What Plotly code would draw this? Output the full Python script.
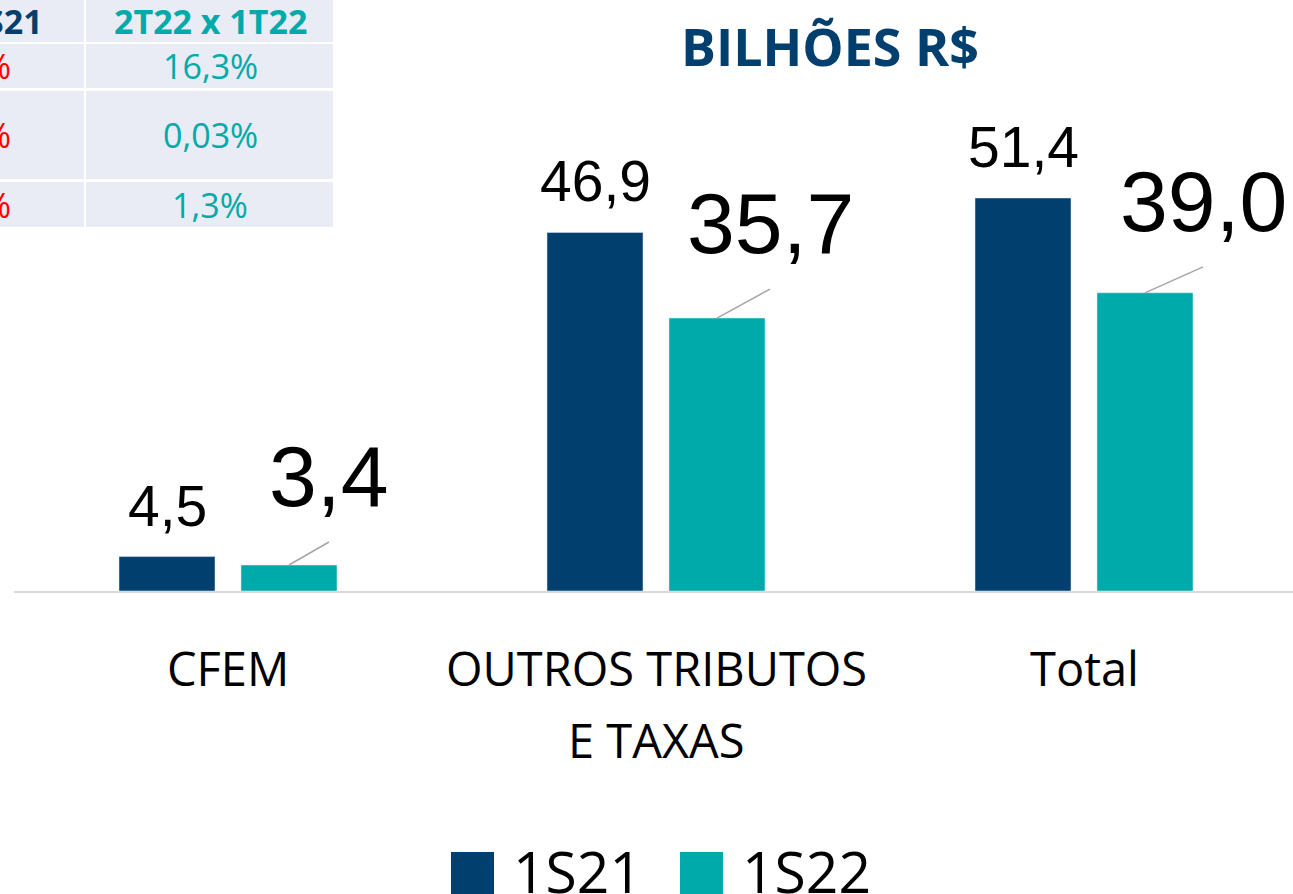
import plotly.graph_objects as go

# dados (bilhões R$)
categorias = ["CFEM", "OUTROS TRIBUTOS<br>E TAXAS", "Total"]
series = ["1S21", "1S22"]
valores_1s21 = [4.5, 46.9, 51.4]
valores_1s22 = [3.4, 35.7, 39.0]

# tabela de variações (recortada no canto)
tab_cab = ["S21", "2T22 x 1T22"]
tab_col1 = ["%", "%", "%"]
tab_col2 = ["16,3%", "0,03%", "1,3%"]

AZUL = "#003F6E"
TEAL = "#00AAAA"
CINZA = "#A6A6A6"
FUNDO_TAB = "#E9EBF5"
FONTE = "Open Sans"
FONTE_NUM = "Liberation Sans"

W, H = 1293, 894
ML, MR, MT, MB = 14, 0, 0, 303
PW, PH = W - ML - MR, H - MT - MB
CAT_PX = 428


def px(x):
    return (x - ML) / PW


def py(y):
    return (H - MB - y) / PH


def fmt(v):
    return f"{v:.1f}".replace(".", ",")


fig = go.Figure()
fig.add_trace(go.Bar(x=categorias, y=valores_1s21, name=series[0],
                     marker_color=AZUL, showlegend=False))
fig.add_trace(go.Bar(x=categorias, y=valores_1s22, name=series[1],
                     marker_color=TEAL, showlegend=False))

anns = []
shapes = []
off = 61  # deslocamento do centro da barra em px

# rótulos 1S21
for c, v in zip(categorias, valores_1s21):
    anns.append(dict(x=c, y=v, text=fmt(v), showarrow=False, xshift=-off,
                     yanchor="bottom", yshift=17,
                     font=dict(family=FONTE_NUM, size=57, color="black")))

# rótulos 1S22 com linhas de chamada
lead_dx = [40, 53, 58]
lead_dy = [23, 29, 26]
for i, (c, v) in enumerate(zip(categorias, valores_1s22)):
    shapes.append(dict(type="line", xref="x", yref="y",
                       xsizemode="pixel", ysizemode="pixel",
                       xanchor=i + off / CAT_PX, yanchor=v,
                       x0=0, x1=lead_dx[i], y0=0, y1=lead_dy[i],
                       line=dict(color=CINZA, width=1.5)))
    anns.append(dict(x=c, y=v, text=fmt(v), showarrow=False,
                     xshift=off + lead_dx[i], yanchor="bottom",
                     yshift=lead_dy[i] + 16,
                     font=dict(family=FONTE_NUM, size=86, color="black")))

# rótulos das categorias
for c in categorias:
    for j, linha in enumerate(c.split("<br>")):
        anns.append(dict(x=c, y=0, text=linha, showarrow=False, yanchor="middle",
                         yshift=-77 - 72 * j,
                         font=dict(family=FONTE, size=47, color="black")))

# título
anns.append(dict(xref="paper", yref="paper", x=px(830), y=py(45), text="<b>BILHÕES R$</b>",
                 showarrow=False, xanchor="center", yanchor="middle",
                 font=dict(family=FONTE, size=52, color=AZUL)))

# tabela
linhas_y = [(-10, 42), (44, 88), (91, 179), (182, 227)]
colunas_x = [(-20, 84), (86, 333)]
for (y0, y1) in linhas_y:
    for (x0, x1) in colunas_x:
        shapes.append(dict(type="rect", xref="paper", yref="paper",
                           x0=px(x0), x1=px(x1), y0=py(y1), y1=py(y0),
                           fillcolor=FUNDO_TAB, line=dict(width=0), layer="below"))
anns.append(dict(xref="paper", yref="paper", x=px(45), y=py(21), text="<b>" + tab_cab[0] + "</b>",
                 showarrow=False, xanchor="right", yanchor="middle",
                 font=dict(family=FONTE, size=34, color=AZUL)))
anns.append(dict(xref="paper", yref="paper", x=px(210), y=py(21), text="<b>" + tab_cab[1] + "</b>",
                 showarrow=False, xanchor="center", yanchor="middle",
                 font=dict(family=FONTE, size=34, color=TEAL)))
for k, (y0, y1) in enumerate(linhas_y[1:]):
    yc = (y0 + y1) / 2
    anns.append(dict(xref="paper", yref="paper", x=px(13), y=py(yc), text=tab_col1[k],
                     showarrow=False, xanchor="right", yanchor="middle",
                     font=dict(family=FONTE, size=34, color="#FF0000")))
    anns.append(dict(xref="paper", yref="paper", x=px(210), y=py(yc), text=tab_col2[k],
                     showarrow=False, xanchor="center", yanchor="middle",
                     font=dict(family=FONTE, size=34, color=TEAL)))

# legenda manual
leg_sq = [451, 680]
for k, (nome, cor) in enumerate(zip(series, [AZUL, TEAL])):
    shapes.append(dict(type="rect", xref="paper", yref="paper",
                       x0=px(leg_sq[k]), x1=px(leg_sq[k] + 43), y0=py(900), y1=py(852),
                       fillcolor=cor, line=dict(width=0)))
    anns.append(dict(xref="paper", yref="paper", x=px(leg_sq[k] + 60), y=py(871), text=nome,
                     showarrow=False, xanchor="left", yanchor="middle",
                     font=dict(family=FONTE, size=57, color="black")))

fig.update_layout(
    width=W, height=H,
    margin=dict(l=ML, r=MR, t=MT, b=MB),
    plot_bgcolor="white", paper_bgcolor="white",
    barmode="group", bargap=0.43, bargroupgap=0.213,
    xaxis=dict(range=[-0.5, -0.5 + PW / CAT_PX], showticklabels=False, ticks="",
               showline=True, linecolor="#D9D9D9", linewidth=2, showgrid=False,
               zeroline=False),
    yaxis=dict(range=[0, PH / (592 - 199) * 51.4], visible=False, showgrid=False,
               zeroline=False),
    annotations=anns, shapes=shapes,
)

# tira a margem padrão do body para o gráfico começar no canto
fig.write_html("out.html", config={"displayModeBar": False},
               post_script="document.body.style.margin='0';document.body.style.overflow='hidden';")
